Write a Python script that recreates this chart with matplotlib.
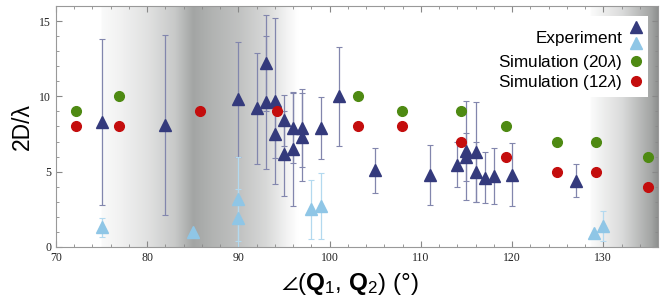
import numpy as np
import matplotlib
matplotlib.use("Agg")
import matplotlib.pyplot as plt
from matplotlib.ticker import MultipleLocator

plt.rcParams['font.family'] = ['Liberation Sans', 'DejaVu Sans']
plt.rcParams['mathtext.fontset'] = 'custom'
plt.rcParams['mathtext.rm'] = 'Liberation Sans'
plt.rcParams['mathtext.it'] = 'Liberation Sans:italic'
plt.rcParams['mathtext.bf'] = 'Liberation Sans:bold'
plt.rcParams['mathtext.fallback'] = 'stixsans'

# experiment (dark)
exp_x = [75, 82, 90, 92, 93, 93, 94, 94, 95, 95, 96, 96, 97, 97, 99, 101,
         105, 111, 114, 115, 115, 116, 116, 117, 118, 120, 127]
exp_y = [8.3, 8.1, 9.8, 9.2, 12.2, 9.6, 9.7, 7.5, 8.4, 6.2, 7.9, 6.5, 7.9, 7.3,
         7.9, 10.0, 5.1, 4.75, 5.45, 6.4, 5.95, 6.3, 4.95, 4.6, 4.7, 4.8, 4.4]
exp_err = [5.5, 6.0, 3.8, 3.7, 3.2, 4.4, 5.5, 1.6, 1.7, 2.8, 2.3, 3.8, 2.6, 2.9,
           2.05, 3.3, 1.5, 2.0, 1.5, 3.3, 1.6, 3.3, 2.0, 1.7, 1.85, 2.1, 1.1]

# experiment (light)
lb_x = [75, 85, 90, 90, 98, 99, 129, 130]
lb_y = [1.3, 1.0, 3.2, 1.9, 2.5, 2.7, 0.95, 1.4]
lb_err = [0.65, 0, 2.8, 1.95, 1.95, 2.2, 0, 1.0]

# simulations
sim20_x = [72.2, 76.9, 103.1, 107.9, 114.4, 119.3, 124.9, 129.2, 134.9]
sim20_y = [9, 10, 10, 9, 9, 8, 7, 7, 6]
sim12_x = [72.2, 76.9, 85.8, 94.2, 103.1, 107.9, 114.4, 119.3, 124.9, 129.2, 134.9]
sim12_y = [8, 8, 9, 9, 8, 8, 7, 6, 5, 5, 4]

# background shading knots
shade_x = [70, 74.9, 75, 77, 80, 83, 85, 87, 90, 93, 95, 96.5, 128.5, 128.6, 132, 136]
shade_v = [0, 0, 0.06, 0.15, 0.33, 0.6, 1.0, 0.85, 0.68, 0.43, 0.17, 0, 0, 0.05, 0.4, 1.15]

navy = '#343a7c'
navy_err = '#8286ad'
light = '#8fc6e6'
light_err = '#b3d9ef'
green = '#4e8a12'
red = '#c40d0d'

fig = plt.figure(figsize=(6.64, 3.0), dpi=100)
ax = fig.add_axes([0.0843, 0.177, 0.9067, 0.803])

xs = np.linspace(70, 136, 800)
shade = np.interp(xs, shade_x, shade_v)
cmap = matplotlib.colors.LinearSegmentedColormap.from_list(
    'g', [(0, '#ffffff'), (1 / 1.15, '#a3a5a4'), (1, '#8c8e8d')])
ax.imshow(shade[None, :], extent=[70, 136, 0, 16], aspect='auto', cmap=cmap,
          vmin=0, vmax=1.15, zorder=0, interpolation='bilinear')

ax.errorbar(exp_x, exp_y, yerr=exp_err, fmt='none', ecolor=navy_err, elinewidth=0.9,
            capsize=2, capthick=0.8, zorder=2)
ax.errorbar(lb_x, lb_y, yerr=lb_err, fmt='none', ecolor=light_err, elinewidth=0.9,
            capsize=2, capthick=0.8, zorder=2)
h1, = ax.plot(exp_x, exp_y, '^', color=navy, ms=8.5, ls='none', zorder=3)
h2, = ax.plot(lb_x, lb_y, '^', color=light, ms=8.5, ls='none', zorder=3)
h3, = ax.plot(sim20_x, sim20_y, 'o', color=green, ms=7, ls='none', zorder=4)
h4, = ax.plot(sim12_x, sim12_y, 'o', color=red, ms=7, ls='none', zorder=4)

ax.set_xlim(70, 136)
ax.set_ylim(0, 16)
ax.xaxis.set_major_locator(MultipleLocator(10))
ax.xaxis.set_minor_locator(MultipleLocator(2))
ax.yaxis.set_major_locator(MultipleLocator(5))
ax.yaxis.set_minor_locator(MultipleLocator(1))
ax.tick_params(which='both', direction='in', top=True, right=True, colors='#888888',
               labelcolor='#222222', labelsize=8.5)
ax.tick_params(which='major', length=4, width=0.8)
ax.tick_params(which='minor', length=2.5, width=0.6)
for lab in ax.get_xticklabels() + ax.get_yticklabels():
    lab.set_fontfamily('Liberation Serif')
for s in ax.spines.values():
    s.set_color('#999999')
    s.set_linewidth(0.8)

ax.set_xlabel('$\\angle$($\\mathbf{Q}_1$, $\\mathbf{Q}_2$) (°)', fontsize=17.5)
ax.set_ylabel('2D/λ', fontsize=16.5, labelpad=4)
ax.xaxis.set_label_coords(0.488, -0.1)

leg = ax.legend([h1, h2, h3, h4],
                ['Experiment', '', 'Simulation (20$\\lambda$)', 'Simulation (12$\\lambda$)'],
                loc='upper right', markerfirst=False, fontsize=12.3, frameon=True,
                fancybox=False, framealpha=1, facecolor='white', edgecolor='none',
                handlelength=0.8, handletextpad=0.4, labelspacing=0.05,
                borderpad=0.3, borderaxespad=0.6)
leg.get_texts()[0].set_y(-9.5)

fig.savefig('out.png', dpi=100)
